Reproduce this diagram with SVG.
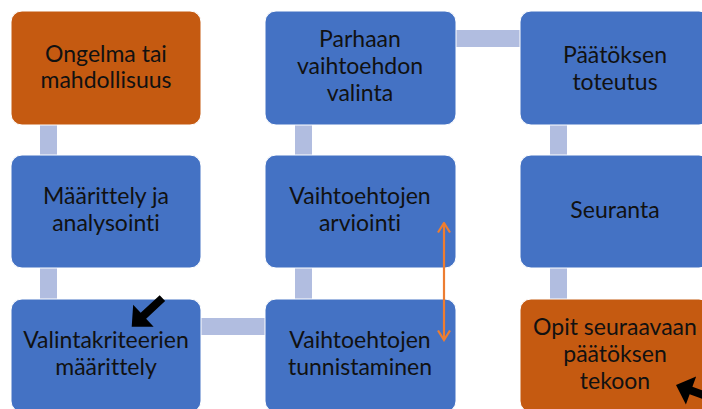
<svg xmlns="http://www.w3.org/2000/svg" width="702" height="409" viewBox="0 0 702 409">
<style>
.node rect{stroke:#ffffff;stroke-width:1}
.blue rect{fill:#4472C4}
.orange rect{fill:#C55A11}
.node text{font-family:Lato,"Liberation Sans",sans-serif;font-size:23px;fill:#111;text-anchor:middle;font-variant-ligatures:none}
.bar{fill:#B1BDE0}
.hint{fill:#000}
.dbl{stroke:#ED7D31;stroke-width:2.2;fill:none}
</style>
<defs>
<marker id="chev" viewBox="0 0 12 14" refX="10.5" refY="7" markerWidth="12" markerHeight="14" markerUnits="userSpaceOnUse" orient="auto-start-reverse">
<path d="M1,1 L10.5,7 L1,13" fill="none" stroke="#ED7D31" stroke-width="2.2"/>
</marker>
</defs>
<rect width="702" height="409" fill="#ffffff"/>
<g id="connectors">
<rect class="bar" x="40" y="125" width="17" height="30"/>
<rect class="bar" x="40" y="268" width="17" height="31"/>
<rect class="bar" x="201" y="318" width="64" height="17"/>
<rect class="bar" x="295" y="268" width="17" height="31"/>
<rect class="bar" x="295" y="125" width="17" height="30"/>
<rect class="bar" x="456" y="30" width="64" height="17"/>
<rect class="bar" x="550" y="125" width="17" height="30"/>
<rect class="bar" x="550" y="268" width="17" height="31"/>
</g>
<g id="n1" class="node orange">
<rect x="11" y="11" width="190" height="114" rx="11"/>
<text x="106" y="62">Ongelma tai</text>
<text x="106" y="88">mahdollisuus</text>
</g>
<g id="n2" class="node blue">
<rect x="11" y="155" width="190" height="113" rx="11"/>
<text x="106" y="204">Määrittely ja</text>
<text x="106" y="231">analysointi</text>
</g>
<g id="n3" class="node blue">
<rect x="11" y="299" width="190" height="113" rx="11"/>
<text x="106" y="348">Valintakriteerien</text>
<text x="106" y="375">määrittely</text>
</g>
<g id="n4" class="node blue">
<rect x="265" y="299" width="191" height="113" rx="11"/>
<text x="360" y="348">Vaihtoehtojen</text>
<text x="360" y="375">tunnistaminen</text>
</g>
<g id="n5" class="node blue">
<rect x="265" y="155" width="191" height="113" rx="11"/>
<text x="360" y="204">Vaihtoehtojen</text>
<text x="360" y="231">arviointi</text>
</g>
<g id="n6" class="node blue">
<rect x="265" y="11" width="191" height="114" rx="11"/>
<text x="360" y="47">Parhaan</text>
<text x="360" y="74">vaihtoehdon</text>
<text x="360" y="101">valinta</text>
</g>
<g id="n7" class="node blue">
<rect x="520" y="11" width="190" height="114" rx="11"/>
<text x="615" y="63">Päätöksen</text>
<text x="615" y="90">toteutus</text>
</g>
<g id="n8" class="node blue">
<rect x="520" y="155" width="190" height="113" rx="11"/>
<text x="615" y="218">Seuranta</text>
</g>
<g id="n9" class="node orange">
<rect x="520" y="299" width="190" height="113" rx="11"/>
<text x="615" y="335">Opit seuraavaan</text>
<text x="615" y="362">päätöksen</text>
<text x="615" y="389">tekoon</text>
</g>
<g id="annotations">
<line class="dbl" x1="444" y1="223" x2="444" y2="340" marker-start="url(#chev)" marker-end="url(#chev)"/>
<polygon class="hint" points="0,0 -16,-15 -16,-4 -42,-4 -42,4 -16,4 -16,15" transform="translate(131.7,326.7) rotate(137)"/>
<polygon class="hint" points="0,0 -16,-15 -16,-4 -50,-4 -50,4 -16,4 -16,15" transform="translate(676,385) rotate(200)"/>
</g>
</svg>
